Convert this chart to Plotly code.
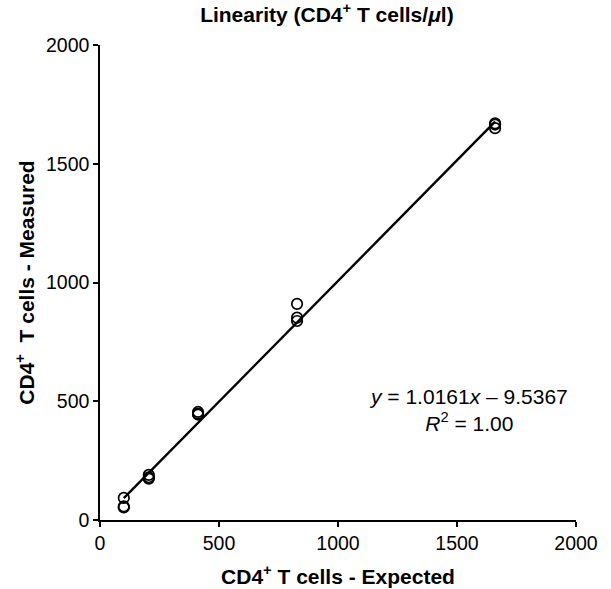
import plotly.graph_objects as go

expected = [100, 100, 100, 205, 205, 205, 412, 412, 412, 828, 828, 828, 1660, 1660, 1660]
measured = [93, 57, 53, 190, 180, 174, 455, 448, 444, 910, 852, 838, 1670, 1665, 1650]
slope = 1.0161
intercept = -9.5367
x_ticks = [0, 500, 1000, 1500, 2000]
y_ticks = [0, 500, 1000, 1500, 2000]

fit_x = [min(expected), max(expected)]
fit_y = [slope * v + intercept for v in fit_x]

font = "Liberation Sans, Arial, Helvetica, sans-serif"

fig = go.Figure()
fig.add_trace(go.Scatter(x=fit_x, y=fit_y, mode="lines",
                         line=dict(color="black", width=2.4), showlegend=False, hoverinfo="skip"))
fig.add_trace(go.Scatter(x=expected, y=measured, mode="markers",
                         marker=dict(symbol="circle-open", size=10.5, color="black",
                                     line=dict(width=1.7, color="black")),
                         showlegend=False))

fig.add_annotation(x=1550, y=463, xref="x", yref="y",
                   text="<i>y</i> = 1.0161<i>x</i> – 9.5367<br><i>R</i><sup>2</sup> = 1.00",
                   showarrow=False, align="center",
                   font=dict(family=font, size=21, color="black"))

fig.update_layout(
    width=611, height=589,
    margin=dict(l=100, r=35, t=45, b=69, autoexpand=False),
    paper_bgcolor="white", plot_bgcolor="white",
    title=dict(text="<b>Linearity (CD4<sup>+</sup> T cells/<i>μ</i>l)</b>",
               x=0.535, xanchor="center", y=0.975, yanchor="middle",
               font=dict(family=font, size=21, color="black")),
    font=dict(family=font, size=19.5, color="black"),
    xaxis=dict(range=[0, 2000], tickvals=x_ticks, showgrid=False, zeroline=False,
               automargin=False,
               showline=True, linecolor="black", linewidth=1.5,
               ticks="outside", ticklen=5, tickwidth=1.5, tickcolor="black",
               tickfont=dict(family=font, size=19.5, color="black"),
               title=dict(text="<b>CD4<sup>+</sup> T cells - Expected</b>", standoff=16,
                          font=dict(family=font, size=21, color="black"))),
    yaxis=dict(range=[0, 2000], tickvals=y_ticks, showgrid=False, zeroline=False,
               automargin=False,
               showline=True, linecolor="black", linewidth=1.5,
               ticks="outside", ticklen=5, tickwidth=1.5, tickcolor="black",
               tickfont=dict(family=font, size=19.5, color="black"),
               title=dict(text="<b>CD4<sup>+</sup>  T cells - Measured</b>", standoff=6,
                          font=dict(family=font, size=21, color="black"))),
)

fig.write_html("out.html")
